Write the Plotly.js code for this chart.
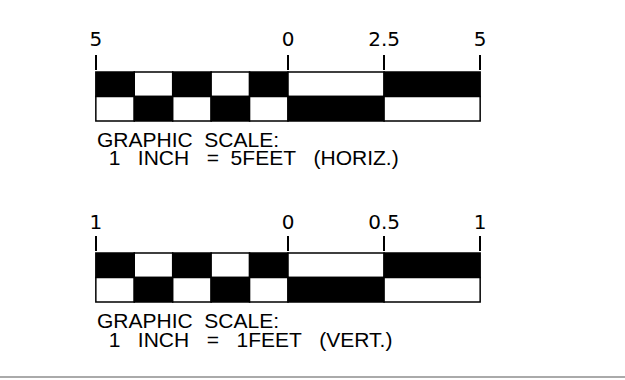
<!DOCTYPE html>
<html>
<head>
<meta charset="utf-8">
<script src="https://cdn.plot.ly/plotly-3.0.1.min.js"></script>
<style>
html,body{margin:0;padding:0;background:#fff;}
#chart{width:625px;height:380px;}
</style>
</head>
<body>
<div id="chart"></div>
<script>
// ---- data ----
var horizStarts = [-5, -4, -3, -2, -1, 0, 2.5];
var horizWidths = [1, 1, 1, 1, 1, 2.5, 2.5];
var vertStarts = [-1, -0.8, -0.6, -0.4, -0.2, 0, 0.5];
var vertWidths = [0.2, 0.2, 0.2, 0.2, 0.2, 0.5, 0.5];
var upperRowColors = ['#000', '#fff', '#000', '#fff', '#000', '#fff', '#000'];
var lowerRowColors = ['#fff', '#000', '#fff', '#000', '#fff', '#000', '#fff'];
var horizTickVals = [-5, 0, 2.5, 5];
var horizTickText = ['5', '0', '2.5', '5'];
var vertTickVals = [-1, 0, 0.5, 1];
var vertTickText = ['1', '0', '0.5', '1'];
var S = '\u00a0';
var titleLine = 'GRAPHIC' + S + S + 'SCALE:';
var horizLine = S + S + '1' + S + S + S + 'INCH' + S + S + S + '=' + S + S + '5FEET' + S + S + S + '(HORIZ.)';
var vertLine = S + S + '1' + S + S + S + 'INCH' + S + S + S + '=' + S + S + S + '1FEET' + S + S + S + '(VERT.)';

function row(starts, widths, colors, yval, xa, ya) {
  return {
    type: 'bar', orientation: 'h',
    x: widths, base: starts,
    y: starts.map(function () { return yval; }),
    width: 1,
    xaxis: xa, yaxis: ya,
    marker: {color: colors, line: {color: '#000', width: 1.5}},
    hoverinfo: 'skip', showlegend: false
  };
}

var traces = [
  row(horizStarts, horizWidths, upperRowColors, 1.5, 'x', 'y'),
  row(horizStarts, horizWidths, lowerRowColors, 0.5, 'x', 'y'),
  row(vertStarts, vertWidths, upperRowColors, 1.5, 'x2', 'y2'),
  row(vertStarts, vertWidths, lowerRowColors, 0.5, 'x2', 'y2')
];

var tickFont = {family: 'DejaVu Sans, sans-serif', size: 20, color: '#000'};
function xax(vals, text, lo, hi, anchor, standoff) {
  return {
    range: [lo, hi], side: 'top', anchor: anchor,
    tickmode: 'array', tickvals: vals, ticktext: text,
    ticks: 'outside', ticklen: 15, tickwidth: 2, tickcolor: '#000',
    tickfont: tickFont, ticklabelstandoff: standoff,
    showgrid: false, zeroline: false, showline: false, fixedrange: true
  };
}
function yax(domain) {
  return {range: [-0.05, 2.05], domain: domain, visible: false, fixedrange: true};
}

var textFont = {family: 'Liberation Sans, Arial, sans-serif', size: 21, color: '#000'};
function note(text, xref, xval, ypx) {
  return {text: text, xref: xref, x: xval, xanchor: 'left', yref: 'paper', y: 1 - ypx / 380,
          yanchor: 'middle', showarrow: false, font: textFont, borderpad: 0};
}

var layout = {
  width: 625, height: 380,
  margin: {l: 92, r: 141, t: 0, b: 0},
  paper_bgcolor: '#fff', plot_bgcolor: 'rgba(0,0,0,0)',
  barmode: 'overlay',
  xaxis: xax(horizTickVals, horizTickText, -5.1, 5.1, 'y', 1),
  yaxis: yax([0.67836, 0.81375]),
  xaxis2: xax(vertTickVals, vertTickText, -1.02, 1.02, 'y2', -1),
  yaxis2: yax([0.20204, 0.33743]),
  annotations: [
    note(titleLine, 'x', -5, 139),
    note(horizLine, 'x', -5, 158),
    note(titleLine, 'x2', -1, 320),
    note(vertLine, 'x2', -1, 339)
  ],
  shapes: [
    {type: 'line', xref: 'paper', yref: 'paper', x0: -92/392, x1: 1 + 141/392,
     y0: 1 - 377/380, y1: 1 - 377/380, line: {color: '#aaaaaa', width: 2}}
  ]
};

Plotly.newPlot('chart', traces, layout, {staticPlot: true, displayModeBar: false});
</script>
</body>
</html>
